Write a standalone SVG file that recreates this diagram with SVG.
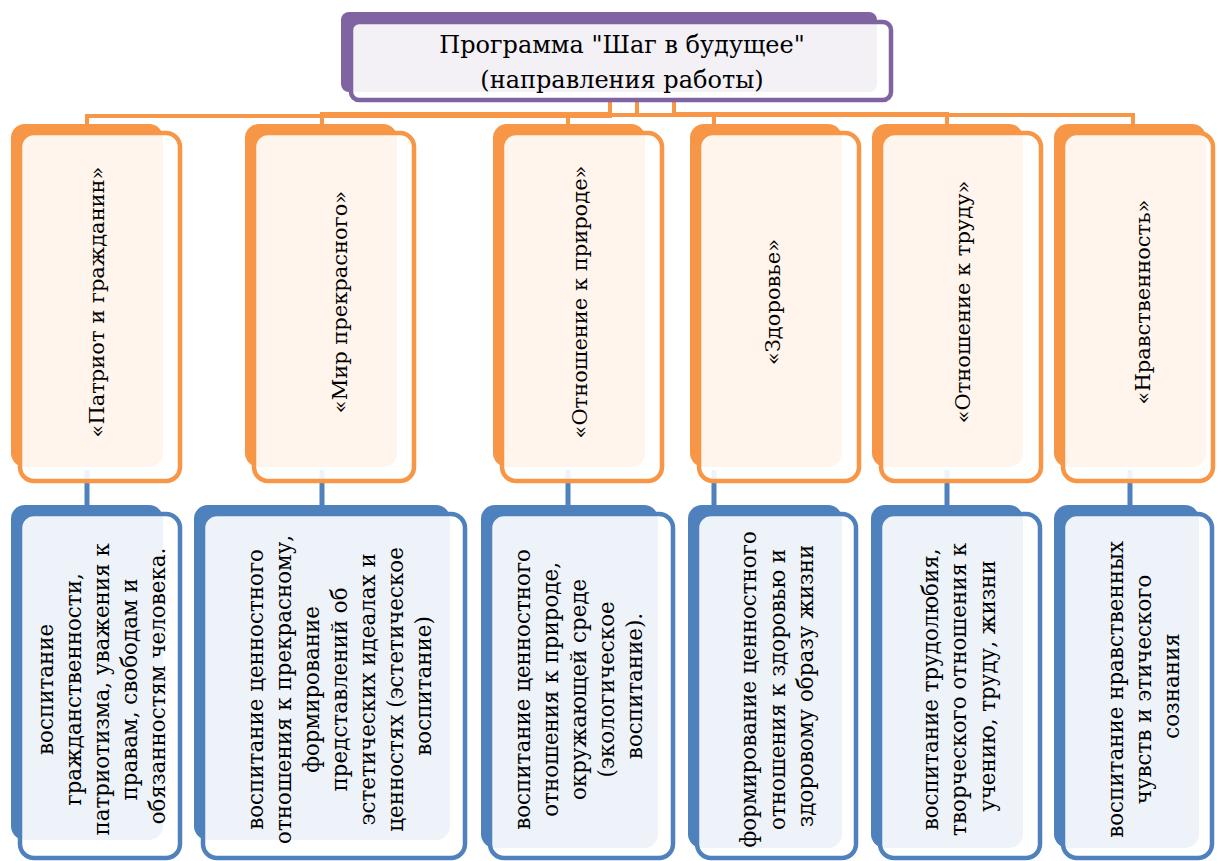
<svg xmlns="http://www.w3.org/2000/svg" width="1217" height="861" viewBox="0 0 1217 861" font-family="'DejaVu Serif', serif">
<defs>
<style>
.bg{fill:#fff}
.ob{fill:#F79646}
.of{fill:#fff;fill-opacity:0.9;stroke:#F79646;stroke-width:4.5}
.bb{fill:#4F81BD}
.bf{fill:#fff;fill-opacity:0.9;stroke:#4F81BD;stroke-width:4.5}
.pb{fill:#8064A2}
.pf{fill:#fff;fill-opacity:0.9;stroke:#8064A2;stroke-width:4.5}
.oc{fill:none;stroke:#F79646;stroke-width:4}
.bc{fill:none;stroke:#4F81BD;stroke-width:5}
.t{font-family:'DejaVu Serif',serif;font-size:21px;text-anchor:middle;dominant-baseline:central;fill:#000}
.d{font-family:'DejaVu Serif',serif;font-size:21.4px;text-anchor:middle;dominant-baseline:central;fill:#000}
.h{font-family:'DejaVu Serif',serif;font-size:24px;text-anchor:middle;dominant-baseline:central;fill:#000}
</style>
</defs>
<rect class="bg" x="0" y="0" width="1217" height="861"/>
<g id="connectors">
<path class="oc" d="M610 100V116H87V124"/>
<path class="oc" d="M610 100V114H322V124"/>
<path class="oc" d="M637 100V115H568V124"/>
<path class="oc" d="M637 100V115H714V124"/>
<path class="oc" d="M674 100V114H947V124"/>
<path class="oc" d="M674 100V115H1133V124"/>
<path class="bc" d="M87 470V507"/>
<path class="bc" d="M322 470V507"/>
<path class="bc" d="M568 470V507"/>
<path class="bc" d="M714 470V507"/>
<path class="bc" d="M947 470V507"/>
<path class="bc" d="M1130 470V507"/>
</g>
<g id="title">
<rect class="pb" x="341" y="12" width="536" height="80" rx="8"/>
<rect class="pf" x="351" y="22" width="540" height="78" rx="8"/>
<text class="h" x="622" y="45">Программа "Шаг в будущее"</text>
<text class="h" x="622" y="80">(направления работы)</text>
</g>
<g id="n1">
<rect class="ob" x="11" y="124" width="152" height="343" rx="14"/>
<rect class="of" x="20" y="133" width="160" height="348" rx="14"/>
<g transform="translate(0,302) rotate(-90)"><text class="t"><tspan x="0" y="97">«Патриот и гражданин»</tspan></text></g>
</g>
<g id="n2">
<rect class="ob" x="245" y="124" width="152" height="343" rx="14"/>
<rect class="of" x="254" y="133" width="160" height="348" rx="14"/>
<g transform="translate(0,302) rotate(-90)"><text class="t"><tspan x="0" y="340">«Мир прекрасного»</tspan></text></g>
</g>
<g id="n3">
<rect class="ob" x="493" y="124" width="152" height="343" rx="14"/>
<rect class="of" x="502" y="133" width="160" height="348" rx="14"/>
<g transform="translate(0,302) rotate(-90)"><text class="t"><tspan x="0" y="580">«Отношение к природе»</tspan></text></g>
</g>
<g id="n4">
<rect class="ob" x="690" y="124" width="152" height="343" rx="14"/>
<rect class="of" x="699" y="133" width="160" height="348" rx="14"/>
<g transform="translate(0,302) rotate(-90)"><text class="t"><tspan x="0" y="773">«Здоровье»</tspan></text></g>
</g>
<g id="n5">
<rect class="ob" x="872" y="124" width="151" height="343" rx="14"/>
<rect class="of" x="881" y="133" width="160" height="348" rx="14"/>
<g transform="translate(0,302) rotate(-90)"><text class="t"><tspan x="0" y="963">«Отношение к труду»</tspan></text></g>
</g>
<g id="n6">
<rect class="ob" x="1054" y="124" width="152" height="343" rx="14"/>
<rect class="of" x="1063" y="133" width="150" height="348" rx="14"/>
<g transform="translate(0,302) rotate(-90)"><text class="t"><tspan x="0" y="1143">«Нравственность»</tspan></text></g>
</g>
<g id="d1">
<rect class="bb" x="11" y="505" width="152" height="335" rx="14"/>
<rect class="bf" x="20" y="514" width="160" height="344" rx="14"/>
<g transform="translate(0,686) rotate(-90)"><text class="d">
<tspan x="0" y="45">воспитание</tspan>
<tspan x="0" y="73">гражданственности,</tspan>
<tspan x="0" y="101">патриотизма, уважения к</tspan>
<tspan x="0" y="129">правам, свободам и</tspan>
<tspan x="0" y="157">обязанностям человека.</tspan>
</text></g>
</g>
<g id="d2">
<rect class="bb" x="194" y="505" width="256" height="335" rx="14"/>
<rect class="bf" x="203" y="514" width="262" height="344" rx="14"/>
<g transform="translate(0,686) rotate(-90)"><text class="d">
<tspan x="0" y="255">воспитание ценностного</tspan>
<tspan x="0" y="283">отношения к прекрасному,</tspan>
<tspan x="0" y="311">формирование</tspan>
<tspan x="0" y="339">представлений об</tspan>
<tspan x="0" y="367">эстетических идеалах и</tspan>
<tspan x="0" y="395">ценностях (эстетическое</tspan>
<tspan x="0" y="423">воспитание)</tspan>
</text></g>
</g>
<g id="d3">
<rect class="bb" x="481" y="505" width="177" height="343" rx="14"/>
<rect class="bf" x="490" y="514" width="183" height="344" rx="14"/>
<g transform="translate(0,686) rotate(-90)"><text class="d">
<tspan x="0" y="522">воспитание ценностного</tspan>
<tspan x="0" y="550">отношения к природе,</tspan>
<tspan x="0" y="578">окружающей среде</tspan>
<tspan x="0" y="606">(экологическое</tspan>
<tspan x="0" y="634">воспитание).</tspan>
</text></g>
</g>
<g id="d4">
<rect class="bb" x="688" y="505" width="154" height="343" rx="14"/>
<rect class="bf" x="697" y="514" width="159" height="344" rx="14"/>
<g transform="translate(0,686) rotate(-90)"><text class="d">
<tspan x="0" y="748">формирование ценностного</tspan>
<tspan x="0" y="777">отношения к здоровью и</tspan>
<tspan x="0" y="805">здоровому образу жизни</tspan>
</text></g>
</g>
<g id="d5">
<rect class="bb" x="871" y="505" width="152" height="343" rx="14"/>
<rect class="bf" x="880" y="514" width="160" height="344" rx="14"/>
<g transform="translate(0,686) rotate(-90)"><text class="d">
<tspan x="0" y="930">воспитание трудолюбия,</tspan>
<tspan x="0" y="958">творческого отношения к</tspan>
<tspan x="0" y="987">учению, труду, жизни</tspan>
</text></g>
</g>
<g id="d6">
<rect class="bb" x="1054" y="505" width="145" height="343" rx="14"/>
<rect class="bf" x="1063" y="514" width="149" height="344" rx="14"/>
<g transform="translate(0,686) rotate(-90)"><text class="d">
<tspan x="0" y="1115">воспитание нравственных</tspan>
<tspan x="0" y="1143">чувств и этического</tspan>
<tspan x="0" y="1171">сознания</tspan>
</text></g>
</g>
</svg>
